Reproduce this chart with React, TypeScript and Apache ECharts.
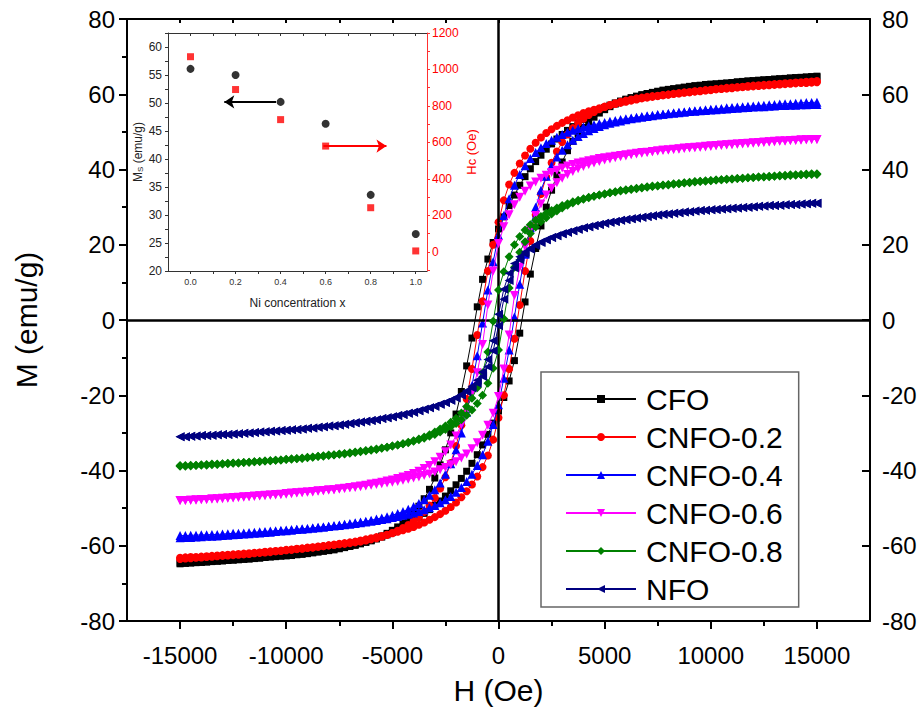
import React, { useEffect, useRef } from "react";
import * as echarts from "echarts";

// Field grid (Oe) of the descending (upper) branch
const H_UP = [
  15000, 14750, 14500, 14250, 14000, 13750, 13500, 13250, 13000, 12750, 12500, 12250, 12000, 11750, 11500, 11250, 11000, 10750, 10500, 10250,
  10000, 9750, 9500, 9250, 9000, 8750, 8500, 8250, 8000, 7750, 7500, 7250, 7000, 6750, 6500, 6250, 6000, 5750, 5500, 5250,
  5000, 4750, 4500, 4250,
  4000, 3750, 3500, 3250, 3000, 2750, 2500, 2250, 2000, 1750, 1500, 1250, 1000, 750, 500, 250, 0,
  -250, -500, -750, -1000, -1250, -1500, -1750, -2000, -2250, -2500, -2750, -3000, -3250, -3500, -3750, -4000,
  -4250, -4500, -4750, -5000, -5250, -5500, -5750, -6000, -6250, -6500, -6750, -7000, -7250, -7500, -7750, -8000, -8250, -8500, -8750, -9000,
  -9250, -9500, -9750, -10000, -10250, -10500, -10750, -11000, -11250, -11500, -11750, -12000, -12250, -12500, -12750, -13000, -13250, -13500, -13750, -14000,
  -14250, -14500, -14750, -15000,
];

// Magnetization (emu/g) along the upper branch
const CFO_UP = [
  64.8, 64.7, 64.6, 64.5, 64.4, 64.3, 64.2, 64.1, 64.0, 63.9, 63.8, 63.7, 63.6, 63.5, 63.4, 63.3, 63.1, 63.0, 62.9, 62.8,
  62.7, 62.6, 62.4, 62.3, 62.1, 61.9, 61.7, 61.5, 61.3, 61.1, 60.8, 60.5, 60.2, 59.9, 59.5, 59.1, 58.7, 58.2, 57.7, 57.1,
  56.5, 55.8, 55.0, 54.2,
  53.3, 52.4, 51.4, 50.4, 49.3, 48.1, 46.8, 45.4, 43.8, 42.1, 40.2, 38.1, 35.8, 33.2, 30.4, 27.4, 24.2,
  20.6, 16.2, 10.8, 3.5, -4.8, -12.2, -19.0, -25.0, -30.0, -34.5, -38.5, -42.0, -45.0, -47.5, -49.5, -51.2,
  -52.6, -53.9, -55.0, -55.9, -56.7, -57.4, -58.0, -58.6, -59.0, -59.4, -59.7, -60.0, -60.3, -60.6, -60.9, -61.1, -61.3, -61.5, -61.7, -61.9,
  -62.0, -62.2, -62.3, -62.5, -62.6, -62.8, -62.9, -63.1, -63.2, -63.4, -63.5, -63.6, -63.7, -63.8, -63.9, -64.0, -64.1, -64.2, -64.3, -64.4,
  -64.4, -64.5, -64.5, -64.6,
];
const CNFO02_UP = [
  63.5, 63.4, 63.3, 63.2, 63.1, 63.0, 62.9, 62.8, 62.7, 62.6, 62.5, 62.4, 62.3, 62.2, 62.0, 61.9, 61.8, 61.7, 61.5, 61.4,
  61.2, 61.1, 60.9, 60.8, 60.6, 60.5, 60.3, 60.1, 59.9, 59.7, 59.5, 59.3, 59.1, 58.9, 58.6, 58.3, 58.0, 57.7, 57.4, 57.1,
  56.7, 56.3, 55.9, 55.5,
  55.0, 54.4, 53.8, 53.1, 52.4, 51.6, 50.7, 49.7, 48.5, 47.1, 45.5, 43.7, 41.6, 39.1, 36.0, 31.8, 26.0,
  20.0, 13.0, 5.0, -4.0, -13.0, -21.0, -28.0, -33.5, -38.0, -41.8, -44.8, -47.3, -49.3, -51.0, -52.4, -53.5,
  -54.5, -55.3, -56.0, -56.6, -57.1, -57.6, -58.0, -58.3, -58.6, -58.9, -59.1, -59.3, -59.5, -59.6, -59.8, -59.9, -60.1, -60.2, -60.4, -60.5,
  -60.7, -60.8, -61.0, -61.1, -61.3, -61.4, -61.5, -61.6, -61.8, -61.9, -62.0, -62.1, -62.2, -62.3, -62.4, -62.5, -62.6, -62.7, -62.8, -62.9,
  -63.0, -63.0, -63.1, -63.2,
];
const CNFO04_UP = [
  57.9, 57.8, 57.8, 57.7, 57.6, 57.5, 57.5, 57.4, 57.3, 57.2, 57.1, 57.0, 56.9, 56.8, 56.7, 56.6, 56.5, 56.4, 56.2, 56.1,
  56.0, 55.9, 55.7, 55.6, 55.5, 55.3, 55.2, 55.0, 54.9, 54.7, 54.6, 54.4, 54.3, 54.1, 53.9, 53.7, 53.5, 53.3, 53.0, 52.8,
  52.5, 52.2, 51.9, 51.6,
  51.3, 50.9, 50.4, 49.9, 49.3, 48.6, 47.8, 46.9, 45.8, 44.5, 42.9, 41.0, 38.7, 35.8, 32.2, 27.8, 22.5,
  15.5, 8.0, -0.8, -9.5, -17.5, -24.5, -30.0, -34.5, -38.2, -41.0, -43.3, -45.1, -46.6, -47.8, -48.8, -49.6,
  -50.3, -50.9, -51.4, -51.9, -52.3, -52.6, -52.9, -53.2, -53.5, -53.7, -53.9, -54.1, -54.3, -54.5, -54.7, -54.8, -55.0, -55.1, -55.3, -55.4,
  -55.5, -55.6, -55.7, -55.8, -55.9, -56.0, -56.1, -56.2, -56.3, -56.4, -56.5, -56.6, -56.7, -56.7, -56.8, -56.9, -57.0, -57.0, -57.1, -57.1,
  -57.2, -57.2, -57.3, -57.3,
];
const CNFO06_UP = [
  48.0, 48.0, 47.9, 47.8, 47.7, 47.7, 47.6, 47.5, 47.4, 47.3, 47.2, 47.1, 47.0, 46.9, 46.8, 46.7, 46.6, 46.5, 46.4, 46.3,
  46.1, 46.0, 45.9, 45.8, 45.7, 45.6, 45.4, 45.3, 45.2, 45.1, 44.9, 44.8, 44.6, 44.5, 44.3, 44.1, 43.9, 43.7, 43.5, 43.3,
  43.1, 42.9, 42.6, 42.3,
  42.0, 41.7, 41.3, 40.9, 40.4, 39.8, 39.2, 38.5, 37.7, 36.7, 35.6, 34.2, 32.6, 30.6, 28.0, 24.8, 20.3,
  13.0, 4.0, -6.5, -14.0, -19.5, -24.0, -27.8, -30.8, -33.2, -35.0, -36.5, -37.7, -38.7, -39.5, -40.2, -40.8,
  -41.3, -41.7, -42.1, -42.5, -42.8, -43.1, -43.4, -43.6, -43.9, -44.1, -44.3, -44.5, -44.7, -44.9, -45.1, -45.2, -45.4, -45.5, -45.7, -45.8,
  -45.9, -46.0, -46.2, -46.3, -46.4, -46.5, -46.6, -46.7, -46.8, -46.9, -47.0, -47.1, -47.2, -47.3, -47.4, -47.5, -47.6, -47.6, -47.7, -47.8,
  -47.9, -47.9, -48.0, -48.0,
];
const CNFO08_UP = [
  38.9, 38.9, 38.8, 38.7, 38.6, 38.6, 38.5, 38.4, 38.3, 38.2, 38.1, 38.0, 37.9, 37.8, 37.7, 37.6, 37.5, 37.4, 37.3, 37.2,
  37.0, 36.9, 36.8, 36.7, 36.5, 36.4, 36.2, 36.1, 35.9, 35.8, 35.6, 35.5, 35.3, 35.1, 34.9, 34.7, 34.5, 34.3, 34.0, 33.8,
  33.5, 33.2, 32.9, 32.6,
  32.2, 31.8, 31.4, 30.9, 30.4, 29.8, 29.1, 28.4, 27.5, 26.5, 25.3, 23.9, 22.2, 20.0, 16.8, 12.8, 8.0,
  -0.3, -8.5, -14.0, -18.0, -20.8, -23.0, -24.7, -26.1, -27.2, -28.2, -29.0, -29.8, -30.5, -31.1, -31.6, -32.1,
  -32.5, -32.9, -33.2, -33.5, -33.8, -34.1, -34.4, -34.6, -34.8, -35.0, -35.2, -35.4, -35.6, -35.7, -35.9, -36.0, -36.2, -36.3, -36.5, -36.6,
  -36.8, -36.9, -37.0, -37.1, -37.2, -37.3, -37.4, -37.5, -37.6, -37.7, -37.8, -37.9, -38.0, -38.0, -38.1, -38.2, -38.3, -38.3, -38.4, -38.5,
  -38.6, -38.6, -38.7, -38.7,
];
const NFO_UP = [
  31.0, 31.0, 30.9, 30.8, 30.7, 30.7, 30.6, 30.5, 30.4, 30.4, 30.3, 30.2, 30.1, 30.0, 29.9, 29.8, 29.7, 29.6, 29.5, 29.4,
  29.3, 29.2, 29.1, 29.0, 28.8, 28.7, 28.5, 28.4, 28.2, 28.1, 27.9, 27.7, 27.5, 27.3, 27.1, 26.9, 26.7, 26.5, 26.2, 26.0,
  25.7, 25.4, 25.1, 24.8,
  24.5, 24.1, 23.7, 23.3, 22.9, 22.4, 21.9, 21.3, 20.7, 20.0, 19.1, 18.1, 16.8, 15.0, 12.4, 8.2, 1.5,
  -5.5, -10.5, -13.8, -16.0, -17.6, -18.8, -19.8, -20.6, -21.3, -21.9, -22.4, -22.9, -23.3, -23.7, -24.1, -24.5,
  -24.8, -25.1, -25.4, -25.7, -26.0, -26.2, -26.5, -26.7, -26.9, -27.1, -27.3, -27.5, -27.7, -27.9, -28.1, -28.2, -28.4, -28.5, -28.7, -28.8,
  -29.0, -29.1, -29.2, -29.3, -29.4, -29.5, -29.6, -29.7, -29.8, -29.9, -30.0, -30.1, -30.2, -30.3, -30.4, -30.4, -30.5, -30.6, -30.7, -30.7,
  -30.8, -30.9, -31.0, -31.0,
];

const SAMPLE_NAMES = ["CFO", "CNFO-0.2", "CNFO-0.4", "CNFO-0.6", "CNFO-0.8", "NFO"];
const SAMPLE_UP = [CFO_UP, CNFO02_UP, CNFO04_UP, CNFO06_UP, CNFO08_UP, NFO_UP];

// Main axes ticks
const H_LABELS = [-15000, -10000, -5000, 0, 5000, 10000, 15000];
const H_MINOR = [-12500, -7500, -2500, 2500, 7500, 12500];
const H_TOP_TICKS = [-15000, -12500, -10000, -7500, -5000, -2500, 0, 2500, 5000, 7500, 10000, 12500, 15000];

// Inset data
const NI_X = [0.0, 0.2, 0.4, 0.6, 0.8, 1.0];
const MS = [56.1, 55.0, 50.2, 46.3, 33.6, 26.6];
const HC = [1070, 890, 725, 580, 242, 5];
const NI_LABELS = [0, 0.2, 0.4, 0.6, 0.8, 1.0];
const NI_TICKS = [0, 0.1, 0.2, 0.3, 0.4, 0.5, 0.6, 0.7, 0.8, 0.9, 1.0];
const MS_LABELS = [20, 25, 30, 35, 40, 45, 50, 55, 60];
const MS_TICKS = [20, 22.5, 25, 27.5, 30, 32.5, 35, 37.5, 40, 42.5, 45, 47.5, 50, 52.5, 55, 57.5, 60, 62.5];
const HC_LABELS = [0, 200, 400, 600, 800, 1000, 1200];
const HC_TICKS = [-100, 0, 100, 200, 300, 400, 500, 600, 700, 800, 900, 1000, 1100, 1200];

const COLORS = ["#000000", "#ff0000", "#0000ff", "#ff00ff", "#008000", "#000080"];
const SYMBOLS = [
  "rect",
  "circle",
  "triangle",
  "path://M0,0L20,0L10,20Z",
  "diamond",
  "path://M0,10L20,0L20,20Z",
];
const SYMBOL_SIZES = [7, 8, 9, 9, 9, 9];

const FONT = "'Liberation Sans', Arial, sans-serif";

function buildLoop(up: number[]) {
  const pts: number[][] = [];
  for (let i = 0; i < H_UP.length; i++) pts.push([H_UP[i], up[i]]);
  for (let i = 0; i < H_UP.length; i++) pts.push([-H_UP[i], -up[i]]);
  return pts;
}

export default function App() {
  const ref = useRef<HTMLDivElement>(null);

  useEffect(() => {
    if (!ref.current) return;
    const chart = echarts.init(ref.current, null, { renderer: "svg" });

    const loopSeries = SAMPLE_NAMES.map((name, k) => ({
      name,
      type: "line",
      xAxisIndex: 0,
      yAxisIndex: 0,
      data: buildLoop(SAMPLE_UP[k]),
      symbol: SYMBOLS[k],
      symbolSize: SYMBOL_SIZES[k],
      showSymbol: true,
      lineStyle: { color: COLORS[k], width: 1 },
      itemStyle: { color: COLORS[k] },
      emphasis: { disabled: true },
      z: 2 + k,
    }));

    const option: any = {
      animation: false,
      backgroundColor: "#ffffff",
      grid: [
        { left: 127, right: 53, top: 19, bottom: 93, containLabel: false },
        { left: 168, right: 496, top: 33, bottom: 443, containLabel: false },
      ],
      legend: {
        data: SAMPLE_NAMES,
        orient: "vertical",
        left: 541,
        top: 372,
        padding: [12, 16, 3, 24],
        itemWidth: 70,
        itemHeight: 10,
        itemGap: 8,
        borderColor: "#666",
        borderWidth: 1.5,
        backgroundColor: "#ffffff",
        textStyle: { fontSize: 30, fontFamily: FONT, color: "#000", lineHeight: 30, padding: [0, 0, 0, 5] },
        selectedMode: false,
      },
      xAxis: [
        {
          type: "value",
          gridIndex: 0,
          position: "bottom",
          min: -17500,
          max: 17500,
          name: "H (Oe)",
          nameLocation: "middle",
          nameGap: 54,
          nameTextStyle: { fontSize: 30, fontFamily: FONT, color: "#000" },
          axisLine: { onZero: false, lineStyle: { color: "#000", width: 2 } },
          axisTick: { show: true, length: 8, lineStyle: { color: "#000", width: 2 }, customValues: H_LABELS },
          axisLabel: {
            fontSize: 24,
            fontFamily: FONT,
            color: "#000",
            margin: 22,
            customValues: H_LABELS,
            formatter: (v: number) => String(v),
          },
          splitLine: { show: false },
        },
        {
          type: "value",
          gridIndex: 0,
          position: "bottom",
          min: -17500,
          max: 17500,
          axisLine: { show: false, onZero: false },
          axisTick: { show: true, length: 5, lineStyle: { color: "#000", width: 2 }, customValues: H_MINOR },
          axisLabel: { show: false },
          splitLine: { show: false },
        },
        {
          type: "value",
          gridIndex: 0,
          position: "top",
          min: -17500,
          max: 17500,
          axisLine: { show: true, onZero: false, lineStyle: { color: "#000", width: 2 } },
          axisTick: { show: true, inside: true, length: 4, lineStyle: { color: "#000", width: 2 }, customValues: H_TOP_TICKS },
          axisLabel: { show: false },
          splitLine: { show: false },
        },
        {
          type: "value",
          gridIndex: 1,
          position: "bottom",
          min: -0.1,
          max: 1.05,
          name: "Ni concentration x",
          nameLocation: "middle",
          nameGap: 26,
          nameTextStyle: { fontSize: 12, fontFamily: FONT, color: "#222" },
          axisLine: { onZero: false, lineStyle: { color: "#333", width: 1 } },
          axisTick: { show: true, length: 3, lineStyle: { color: "#333", width: 1 }, customValues: NI_TICKS },
          axisLabel: {
            fontSize: 9,
            fontFamily: FONT,
            color: "#333",
            margin: 6,
            customValues: NI_LABELS,
            formatter: (v: number) => v.toFixed(1),
          },
          splitLine: { show: false },
        },
        {
          type: "value",
          gridIndex: 1,
          position: "top",
          min: -0.1,
          max: 1.05,
          axisLine: { show: true, onZero: false, lineStyle: { color: "#333", width: 1 } },
          axisTick: { show: true, inside: true, length: 3, lineStyle: { color: "#333", width: 1 }, customValues: NI_TICKS },
          axisLabel: { show: false },
          splitLine: { show: false },
        },
      ],
      yAxis: [
        {
          type: "value",
          gridIndex: 0,
          position: "left",
          min: -80,
          max: 80,
          interval: 20,
          name: "M (emu/g)",
          nameLocation: "middle",
          nameGap: 86,
          nameTextStyle: { fontSize: 30, fontFamily: FONT, color: "#000" },
          axisLine: { onZero: false, lineStyle: { color: "#000", width: 2 } },
          axisTick: { show: true, length: 8, lineStyle: { color: "#000", width: 2 } },
          minorTick: { show: true, splitNumber: 2, length: 5, lineStyle: { color: "#000", width: 2 } },
          axisLabel: { fontSize: 24, fontFamily: FONT, color: "#000", margin: 12 },
          splitLine: { show: false },
        },
        {
          type: "value",
          gridIndex: 0,
          position: "right",
          min: -80,
          max: 80,
          interval: 20,
          axisLine: { show: true, onZero: false, lineStyle: { color: "#000", width: 2 } },
          axisTick: { show: true, inside: true, length: 8, lineStyle: { color: "#000", width: 2 } },
          axisLabel: { fontSize: 24, fontFamily: FONT, color: "#000", margin: 12 },
          splitLine: { show: false },
        },
        {
          type: "value",
          gridIndex: 1,
          position: "left",
          min: 20,
          max: 62.5,
          name: "{m|M}{s|S}{m| (emu/g)}",
          nameLocation: "middle",
          nameGap: 22,
          nameRotate: 90,
          nameTextStyle: {
            fontFamily: FONT,
            color: "#222",
            rich: {
              m: { fontSize: 12, fontFamily: FONT, color: "#222" },
              s: { fontSize: 8, fontFamily: FONT, color: "#222", verticalAlign: "bottom", padding: [6, 0, 0, 0] },
            },
          },
          axisLine: { onZero: false, lineStyle: { color: "#333", width: 1 } },
          axisTick: { show: true, length: 3, lineStyle: { color: "#333", width: 1 }, customValues: MS_TICKS },
          axisLabel: { fontSize: 12, fontFamily: FONT, color: "#222", margin: 6, customValues: MS_LABELS },
          splitLine: { show: false },
        },
        {
          type: "value",
          gridIndex: 1,
          position: "right",
          min: -105,
          max: 1200,
          name: "Hc (Oe)",
          nameLocation: "middle",
          nameGap: 38,
          nameRotate: 90,
          nameTextStyle: { fontSize: 13, fontFamily: FONT, color: "#ff0000" },
          axisLine: { onZero: false, lineStyle: { color: "#ff3030", width: 1 } },
          axisTick: { show: true, length: 3, lineStyle: { color: "#ff3030", width: 1 }, customValues: HC_TICKS },
          axisLabel: {
            fontSize: 12,
            fontFamily: FONT,
            color: "#ff0000",
            margin: 5,
            customValues: HC_LABELS,
            formatter: (v: number) => String(v),
          },
          splitLine: { show: false },
        },
      ],
      series: [
        ...loopSeries,
        {
          name: "axes-zero",
          type: "line",
          xAxisIndex: 0,
          yAxisIndex: 0,
          data: [],
          z: 20,
          markLine: {
            silent: true,
            symbol: "none",
            animation: false,
            label: { show: false },
            lineStyle: { color: "#000", width: 2.5, type: "solid" },
            emphasis: { disabled: true },
            data: [{ xAxis: 0 }, { yAxis: 0 }],
          },
        },
        {
          name: "Ms",
          type: "scatter",
          xAxisIndex: 3,
          yAxisIndex: 2,
          data: NI_X.map((x, i) => [x, MS[i]]),
          symbol: "circle",
          symbolSize: 8,
          itemStyle: { color: "#000" },
          z: 10,
          markLine: {
            silent: true,
            symbol: ["none", "arrow"],
            symbolSize: [10, 10],
            label: { show: false },
            lineStyle: { color: "#000", width: 2, type: "solid" },
            data: [[{ coord: [0.38, 50.2] }, { coord: [0.15, 50.2] }]],
          },
        },
        {
          name: "Hc",
          type: "scatter",
          xAxisIndex: 3,
          yAxisIndex: 3,
          data: NI_X.map((x, i) => [x, HC[i]]),
          symbol: "rect",
          symbolSize: 7,
          itemStyle: { color: "#ff0000" },
          z: 10,
          markLine: {
            silent: true,
            symbol: ["none", "arrow"],
            symbolSize: [10, 10],
            label: { show: false },
            lineStyle: { color: "#ff0000", width: 2, type: "solid" },
            data: [[{ coord: [0.59, 580] }, { coord: [0.87, 580] }]],
          },
        },
      ],
    };

    chart.setOption(option);
    return () => chart.dispose();
  }, []);

  return (
    <div
      ref={ref}
      style={{ position: "absolute", left: 0, top: 0, width: 923, height: 714, background: "#fff" }}
    />
  );
}
